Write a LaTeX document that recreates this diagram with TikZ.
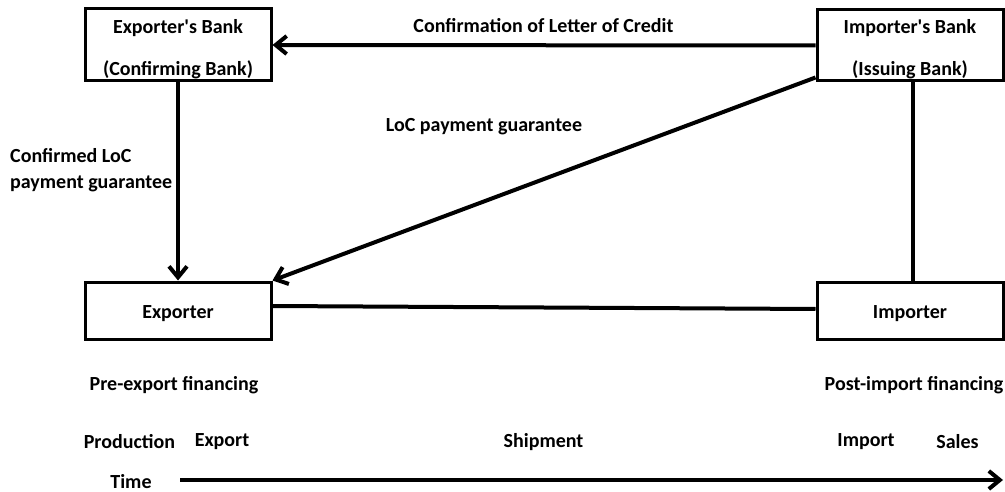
\documentclass[tikz,border=0pt]{standalone}
\usepackage{fontspec}
\setmainfont{Carlito}
\usetikzlibrary{arrows.meta}
\tikzset{
  box/.style={draw, line width=3pt, minimum width=186pt, minimum height=57pt, inner sep=0pt, align=center, font=\bfseries\fontsize{20pt}{42pt}\selectfont},
  lbl/.style={inner sep=0pt, font=\bfseries\fontsize{20pt}{26pt}\selectfont},
  conn/.style={line width=4pt},
  arr/.style={conn, -{Straight Barb[length=11pt,width=18pt,line width=4pt]}}
}
\begin{document}
\begin{tikzpicture}[x=1pt,y=-1pt]
\useasboundingbox (0,0) rectangle (1005,492);
\node[box, minimum height=72pt] (ebank) at (178,45) {\rule{0pt}{22pt}Exporter\textquotesingle s Bank\\(Confirming Bank)};
\node[box, minimum height=71pt] (ibank) at (910,45.5) {\rule{0pt}{22pt}Importer\textquotesingle s Bank\\(Issuing Bank)};
\node[box] (exp) at (178,310.5) {\rule{0pt}{19pt}Exporter};
\node[box] (imp) at (910,310.5) {\rule{0pt}{19pt}Importer};

\draw[arr] (ibank.west) -- (ebank.east);
\draw[arr] (ebank.south) -- (exp.north);
\draw[arr] ([yshift=5pt]ibank.south west) -- (exp.north east);
\draw[conn] ([xshift=3pt]ibank.south) -- ([xshift=3pt]imp.north);
\draw[conn] ([yshift=4.5pt]exp.east) -- ([yshift=1.5pt]imp.west);

\node[lbl] (l1) at (543.5,26) {Confirmation of Letter of Credit};
\node[lbl] (l2) at (484,127) {LoC payment guarantee};
\node[lbl, anchor=west, align=left] (l3) at (10,170) {Confirmed LoC\\payment guarantee};
\node[lbl] (pre) at (174,385) {Pre-export financing};
\node[lbl] (post) at (914,385) {Post-import financing};
\node[lbl] (prod) at (129.5,442) {Production};
\node[lbl] (expo) at (222,442) {Export};
\node[lbl] (ship) at (543.5,442) {Shipment};
\node[lbl] (impo) at (866,442) {Import};
\node[lbl] (sales) at (957.5,442) {Sales};
\node[lbl] (time) at (131,482) {Time};
\coordinate (t0) at (180,480);
\coordinate (t1) at (1003,480);
\draw[arr] (t0) -- (t1);
\end{tikzpicture}
\end{document}
